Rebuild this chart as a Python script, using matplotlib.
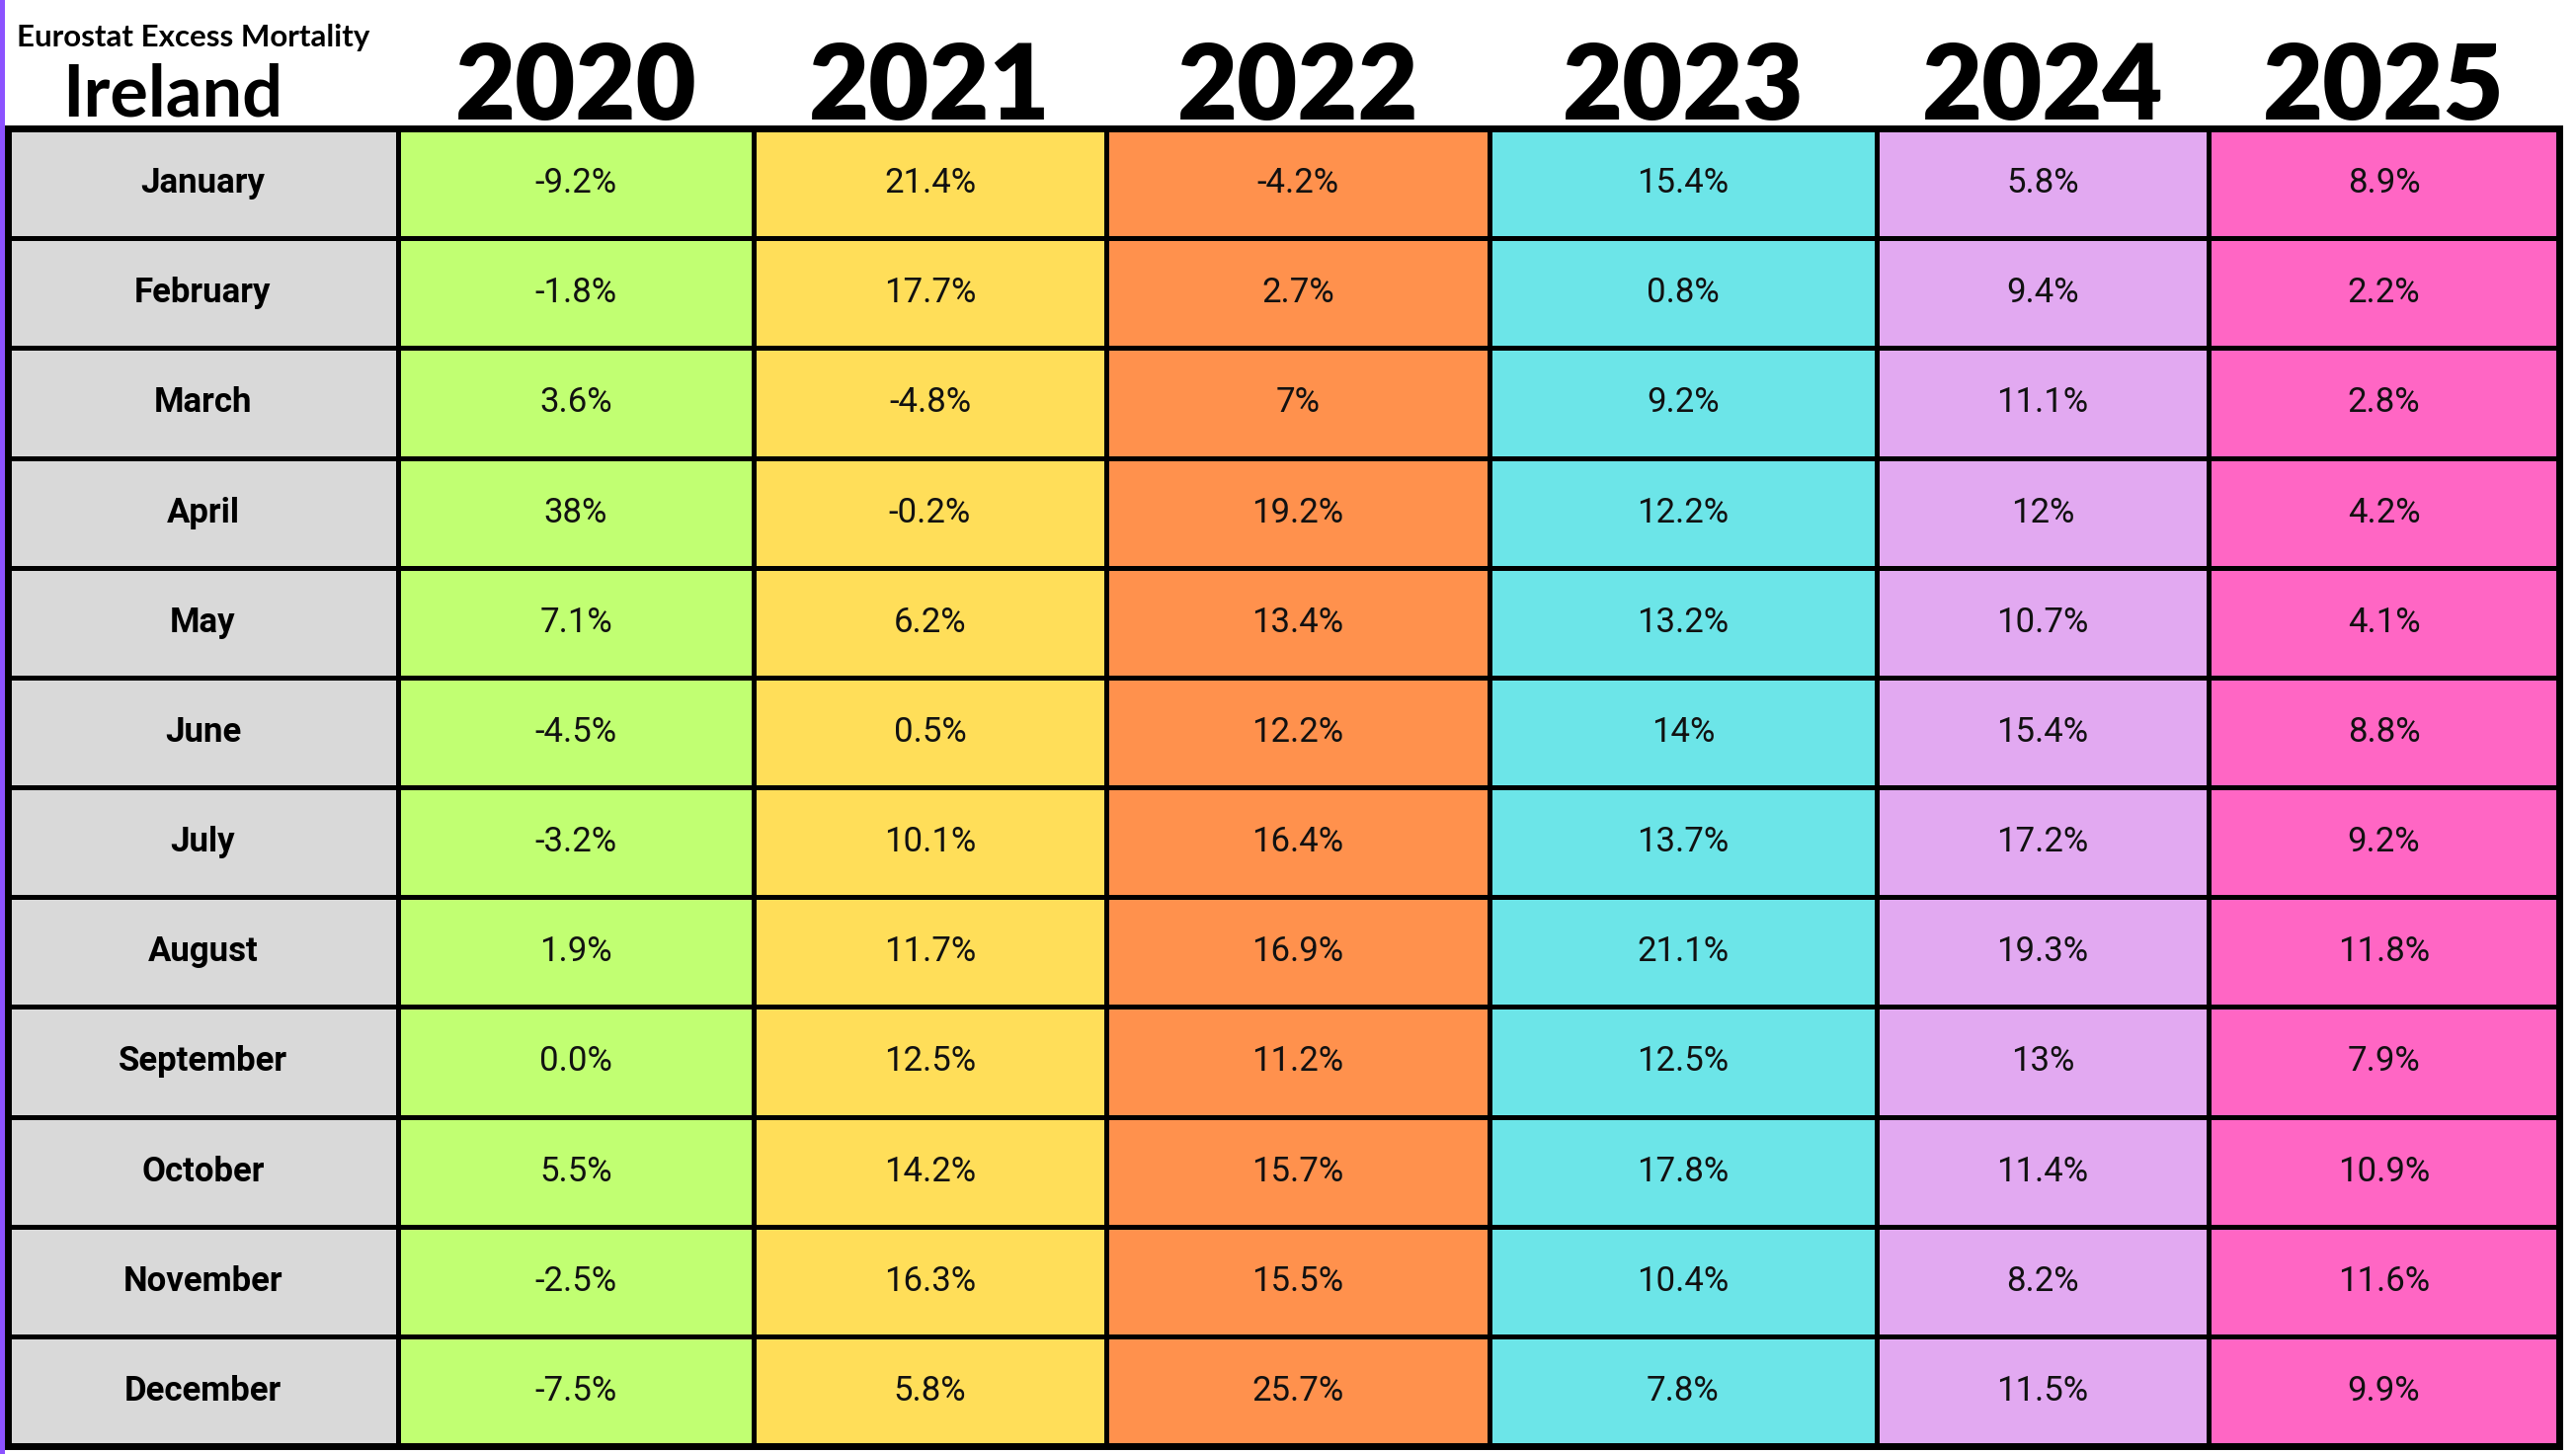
import matplotlib.pyplot as plt
from matplotlib.patches import Rectangle

months = ["January", "February", "March", "April", "May", "June", "July",
          "August", "September", "October", "November", "December"]
years = ["2020", "2021", "2022", "2023", "2024", "2025"]

v2020 = ["-9.2%", "-1.8%", "3.6%", "38%", "7.1%", "-4.5%", "-3.2%", "1.9%", "0.0%", "5.5%", "-2.5%", "-7.5%"]
v2021 = ["21.4%", "17.7%", "-4.8%", "-0.2%", "6.2%", "0.5%", "10.1%", "11.7%", "12.5%", "14.2%", "16.3%", "5.8%"]
v2022 = ["-4.2%", "2.7%", "7%", "19.2%", "13.4%", "12.2%", "16.4%", "16.9%", "11.2%", "15.7%", "15.5%", "25.7%"]
v2023 = ["15.4%", "0.8%", "9.2%", "12.2%", "13.2%", "14%", "13.7%", "21.1%", "12.5%", "17.8%", "10.4%", "7.8%"]
v2024 = ["5.8%", "9.4%", "11.1%", "12%", "10.7%", "15.4%", "17.2%", "19.3%", "13%", "11.4%", "8.2%", "11.5%"]
v2025 = ["8.9%", "2.2%", "2.8%", "4.2%", "4.1%", "8.8%", "9.2%", "11.8%", "7.9%", "10.9%", "11.6%", "9.9%"]

columns = [v2020, v2021, v2022, v2023, v2024, v2025]
col_colors = ["#C1FF72", "#FFDE59", "#FF914D", "#6CE5E8", "#E2A9F1", "#FF66C4"]
month_color = "#D9D9D9"

# layout in pixels
W, H = 2608, 1472
col_edges = [8, 403, 763, 1120, 1508, 1900, 2236, 2591]
top, bottom = 130, 1464
row_h = (bottom - top) / len(months)

cell_font = ["Liberation Sans Narrow", "Roboto", "DejaVu Sans"]
head_font = ["Lato", "DejaVu Sans"]

fig = plt.figure(figsize=(W / 100, H / 100), dpi=100)
ax = fig.add_axes([0, 0, 1, 1])
ax.set_xlim(0, W)
ax.set_ylim(H, 0)
ax.axis("off")

# purple strip on the left edge
ax.add_patch(Rectangle((0, 0), 5, H, facecolor="#8C52FF", edgecolor="none", zorder=0))

for i, m in enumerate(months):
    y0 = top + i * row_h
    ax.add_patch(Rectangle((col_edges[0], y0), col_edges[1] - col_edges[0], row_h,
                           facecolor=month_color, edgecolor="black", linewidth=3.6, zorder=1))
    ax.text((col_edges[0] + col_edges[1]) / 2, y0 + row_h / 2, m, ha="center", va="center",
            fontsize=25, fontweight="bold", family=cell_font, zorder=3)
    for j, vals in enumerate(columns):
        x0 = col_edges[j + 1]
        ax.add_patch(Rectangle((x0, y0), col_edges[j + 2] - x0, row_h,
                               facecolor=col_colors[j], edgecolor="black", linewidth=3.6, zorder=1))
        ax.text(x0 + (col_edges[j + 2] - x0) / 2, y0 + row_h / 2, vals[i], ha="center", va="center",
                fontsize=25, family=cell_font, color="#111111", zorder=3)

# outer frame
ax.add_patch(Rectangle((col_edges[0], top), col_edges[-1] - col_edges[0], bottom - top,
                       facecolor="none", edgecolor="black", linewidth=5, zorder=2))

# headers
for j, yr in enumerate(years):
    xc = (col_edges[j + 1] + col_edges[j + 2]) / 2
    ax.text(xc, 121, yr, ha="center", va="baseline", fontsize=76, fontweight="heavy",
            family=head_font)

ax.text(17, 47, "Eurostat Excess Mortality", ha="left", va="baseline", fontsize=22.5,
        fontweight="bold", family=head_font)
ax.text(175, 117, "Ireland", ha="center", va="baseline", fontsize=52, fontweight="bold",
        family=head_font)

fig.savefig("out.png", dpi=100, facecolor="white")
